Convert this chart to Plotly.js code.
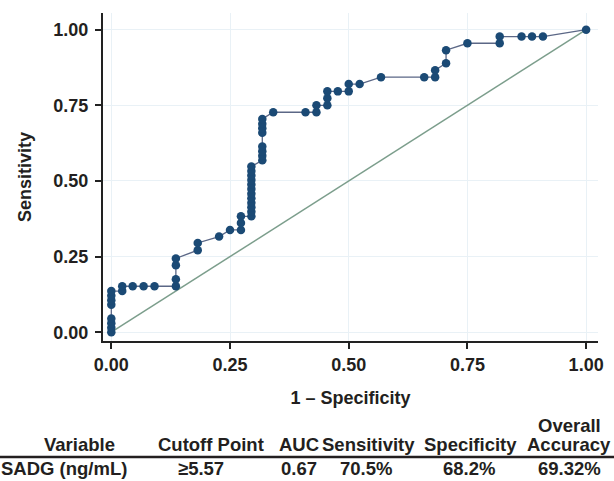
<!DOCTYPE html>
<html>
<head>
<meta charset="utf-8">
<script src="https://cdn.plot.ly/plotly-3.0.1.min.js"></script>
<style>
  html, body { margin: 0; padding: 0; background: #fff; }
  #chart { width: 614px; height: 481px; }
</style>
</head>
<body>
<div id="chart"></div>
<script>
// ROC curve points (1 - specificity, sensitivity)
const fpr = [
  0, 0, 0, 0, 0, 0, 0, 0,
  0.023, 0.023,
  0.045, 0.068, 0.091,
  0.136, 0.136, 0.136, 0.136,
  0.182, 0.182,
  0.227,
  0.25,
  0.273, 0.273, 0.273,
  0.295, 0.295, 0.295, 0.295, 0.295, 0.295, 0.295, 0.295, 0.295, 0.295, 0.295, 0.295,
  0.318, 0.318, 0.318, 0.318, 0.318, 0.318, 0.318, 0.318,
  0.341,
  0.409,
  0.432, 0.432,
  0.455, 0.455, 0.455,
  0.477,
  0.5, 0.5,
  0.523,
  0.568,
  0.659,
  0.682, 0.682,
  0.705, 0.705,
  0.75,
  0.818, 0.818,
  0.864, 0.886, 0.909,
  1
];
const sens = [
  0, 0.015, 0.03, 0.045, 0.091, 0.106, 0.121, 0.136,
  0.136, 0.152,
  0.152, 0.152, 0.152,
  0.152, 0.175, 0.221, 0.244,
  0.271, 0.295,
  0.316,
  0.338,
  0.338, 0.361, 0.383,
  0.383, 0.398, 0.413, 0.428, 0.443, 0.458, 0.473, 0.488, 0.503, 0.518, 0.533, 0.548,
  0.568, 0.583, 0.598, 0.614, 0.659, 0.674, 0.689, 0.705,
  0.727,
  0.727,
  0.727, 0.75,
  0.75, 0.773, 0.796,
  0.796,
  0.796, 0.82,
  0.82,
  0.843,
  0.843,
  0.843, 0.866,
  0.889, 0.932,
  0.955,
  0.955, 0.977,
  0.977, 0.977, 0.977,
  1
];
const refX = [0, 1];
const refY = [0, 1];
const tickVals = [0, 0.25, 0.5, 0.75, 1];
const tickText = ['0.00', '0.25', '0.50', '0.75', '1.00'];

// Summary table
const tableTopHeader = ['', '', '', '', '', 'Overall'];
const tableHeader = ['Variable', 'Cutoff Point', 'AUC', 'Sensitivity', 'Specificity', 'Accuracy'];
const tableRow = ['SADG (ng/mL)', '≥5.57', '0.67', '70.5%', '68.2%', '69.32%'];

// layout helpers (pixel -> paper)
const L = 103, R = 598, T = 13, B = 341;
const px = X => (X - L) / (R - L);
const py = Y => (B - Y) / (B - T);
const headerCenters = [79, 211, 299, 368, 470, 569];
const rowCenters = [64, 201, 299, 366, 469, 569];

const txtColor = '#231f20';
const fontFam = '"Liberation Sans", Arial, Helvetica, sans-serif';
const boldFont = (s) => ({family: fontFam, size: s, color: txtColor, weight: 'bold'});

const annotations = [];
tableTopHeader.forEach((t, i) => {
  if (!t) return;
  annotations.push({xref: 'paper', yref: 'paper', x: px(headerCenters[i]), y: py(425),
    xanchor: 'center', yanchor: 'middle', text: t, showarrow: false, font: boldFont(18.5)});
});
tableHeader.forEach((t, i) => {
  annotations.push({xref: 'paper', yref: 'paper', x: px(headerCenters[i]), y: py(444),
    xanchor: 'center', yanchor: 'middle', text: t, showarrow: false, font: boldFont(18.5)});
});
tableRow.forEach((t, i) => {
  annotations.push({xref: 'paper', yref: 'paper', x: px(rowCenters[i]), y: py(469),
    xanchor: 'center', yanchor: 'middle', text: t, showarrow: false, font: boldFont(18.5)});
});

const data = [
  {x: refX, y: refY, type: 'scatter', mode: 'lines',
   line: {color: '#7c9e8c', width: 1.5}, hoverinfo: 'skip', showlegend: false},
  {x: fpr, y: sens, type: 'scatter', mode: 'lines+markers',
   line: {color: '#5b6786', width: 1.3},
   marker: {color: '#1b4a75', size: 8.5},
   showlegend: false}
];

const axisCommon = {
  showline: true, linecolor: '#222', linewidth: 2,
  ticks: 'outside', ticklen: 6, tickwidth: 2, tickcolor: '#222',
  showgrid: true, gridcolor: '#e9f1f6', gridwidth: 1,
  zeroline: false,
  tickvals: tickVals, ticktext: tickText,
  tickfont: boldFont(18)
};

const layout = {
  width: 614, height: 481,
  margin: {l: L, r: 614 - R, t: T, b: 481 - B, pad: 0},
  paper_bgcolor: '#fff', plot_bgcolor: '#fff',
  showlegend: false,
  xaxis: Object.assign({}, axisCommon, {
    range: [-0.0175, 1.025],
    title: {text: '1 – Specificity', font: boldFont(18), standoff: 18}
  }),
  yaxis: Object.assign({}, axisCommon, {
    range: [-0.029, 1.055],
    ticklabelstandoff: 3,
    title: {text: 'Sensitivity', font: boldFont(18), standoff: 17}
  }),
  annotations: annotations,
  shapes: [{type: 'line', xref: 'paper', yref: 'paper',
    x0: px(0), x1: px(614), y0: py(457), y1: py(457),
    line: {color: '#231f20', width: 2.5}}]
};

Plotly.newPlot('chart', data, layout, {displayModeBar: false, staticPlot: true});
</script>
</body>
</html>
